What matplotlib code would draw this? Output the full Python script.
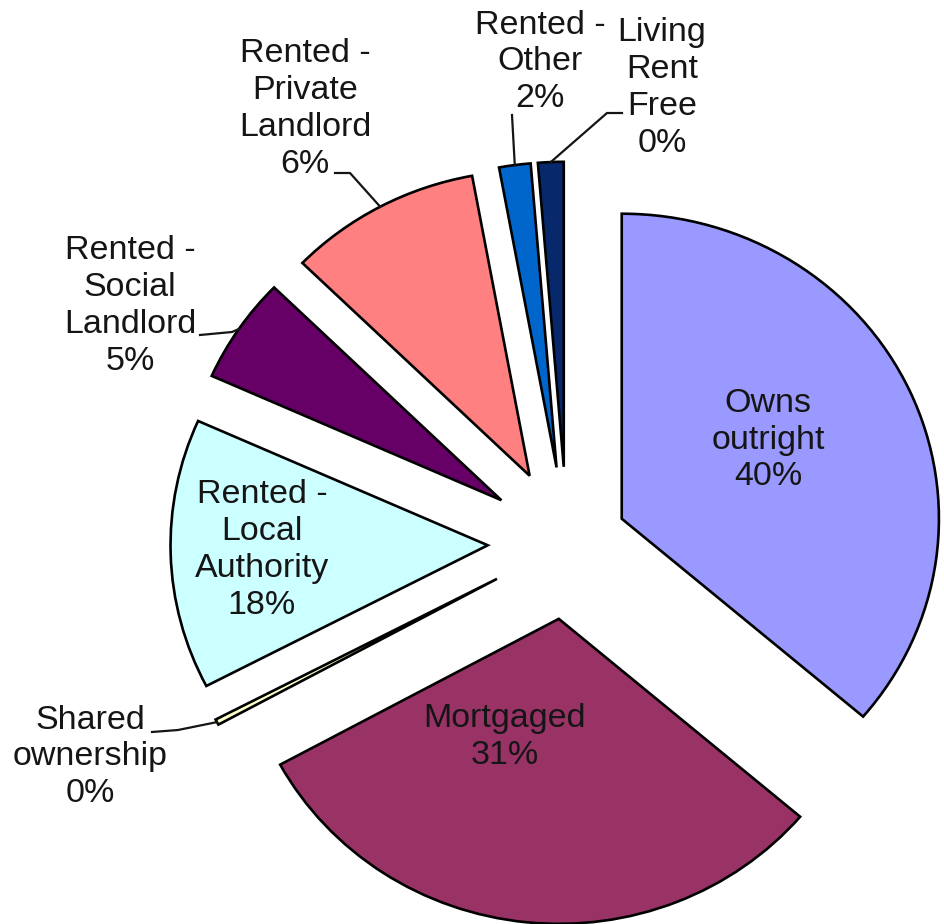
import numpy as np
import matplotlib
matplotlib.use('Agg')
import matplotlib.pyplot as plt

# Housing tenure pie (slice sizes, labels as printed)
categories = ['Owns outright', 'Mortgaged', 'Shared ownership',
              'Rented - Local Authority', 'Rented - Social Landlord',
              'Rented - Private Landlord', 'Rented - Other', 'Living Rent Free']
shares = [36.2, 30.8, 0.3, 14.3, 5.6, 9.8, 1.6, 1.3]
pct_labels = ['40%', '31%', '0%', '18%', '5%', '6%', '2%', '0%']
label_names = ['Owns\noutright', 'Mortgaged', 'Shared\nownership',
               'Rented -\nLocal\nAuthority', 'Rented -\nSocial\nLandlord',
               'Rented -\nPrivate\nLandlord', 'Rented -\nOther',
               'Living\nRent\nFree']

colors = ['#9999FF', '#993366', '#FFFFCC', '#CCFFFF', '#660066',
          '#FF8080', '#0066CC', '#08286C']
explode = [0.19, 0.25, 0.25, 0.25, 0.25, 0.25, 0.25, 0.25]

# pixel layout of the picture (centre of pie and px per unit radius)
W, H = 944, 924
CX, CY = 567, 543
SX, SY = 317.2, 305.0


def px(x, y):
    return ((x - CX) / SX, (CY - y) / SY)


# label centres in px, and leader line start/elbow points (None = inside slice)
label_pos = [(768, 440), (505, 737), (90, 757), (262, 550),
             (130, 306), (305, 109), (540, 62), (662, 88)]
leaders = [None, None, [(152, 732), (178, 730)], None,
           [(200, 335), (232, 332)], [(335, 173), (350, 173)],
           [(512, 115)], [(622, 113), (607, 113)]]

fig = plt.figure(figsize=(W / 100, H / 100), dpi=100)
ax = fig.add_axes([0, 0, 1, 1])

wedges, _ = ax.pie(shares, explode=explode, colors=colors, startangle=90,
                   counterclock=False, radius=1.0,
                   wedgeprops=dict(edgecolor='black', linewidth=1.9))

ax.set_aspect('auto')
ax.set_xlim(-CX / SX, (W - CX) / SX)
ax.set_ylim(-(H - CY) / SY, CY / SY)
ax.axis('off')

for i, w in enumerate(wedges):
    tx, ty = px(*label_pos[i])
    ax.text(tx, ty, label_names[i] + '\n' + pct_labels[i], ha='center',
            va='center', fontsize=24.5, family='Liberation Sans',
            color='#151515', linespacing=1.24)
    if leaders[i] is not None:
        mid = np.deg2rad((w.theta1 + w.theta2) / 2)
        ex = w.center[0] + w.r * np.cos(mid)
        ey = w.center[1] + w.r * np.sin(mid)
        pts = [px(*p) for p in leaders[i]] + [(ex, ey)]
        ax.plot([p[0] for p in pts], [p[1] for p in pts], color='#151515',
                linewidth=1.6)

fig.savefig('out.png', dpi=100, facecolor='white')
